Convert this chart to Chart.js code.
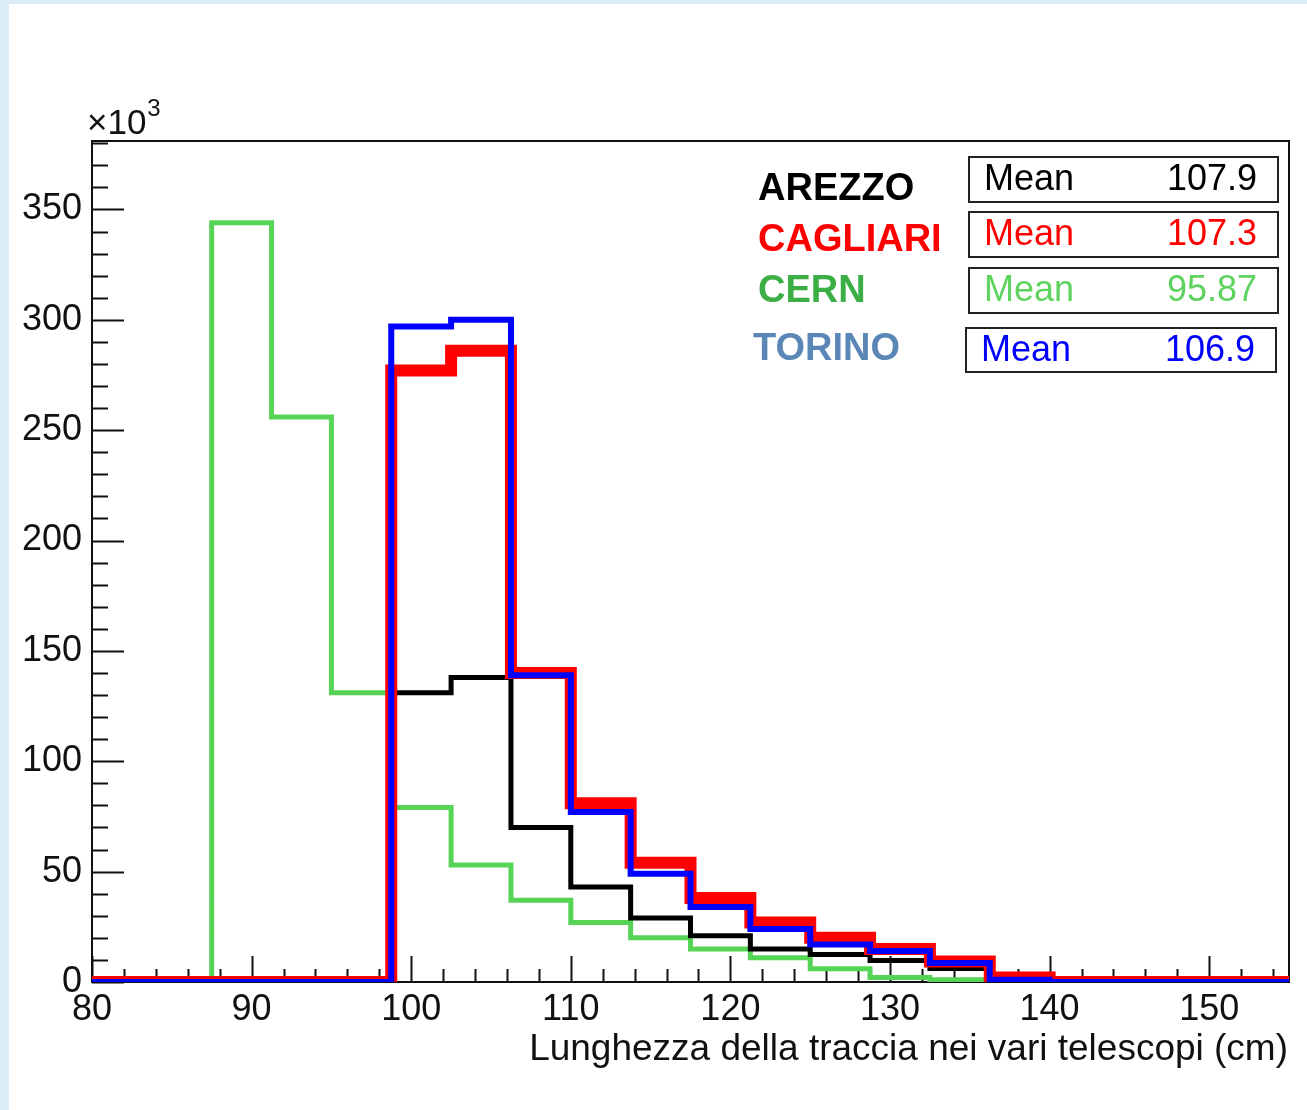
<!DOCTYPE html>
<html>
<head>
<meta charset="utf-8">
<script src="https://cdn.jsdelivr.net/npm/chart.js@4.4.1/dist/chart.umd.min.js"></script>
<style>
  html, body { margin: 0; padding: 0; width: 1307px; height: 1110px; overflow: hidden; background: #dcedf8; }
  #wrap { position: absolute; left: 9px; top: 4px; width: 1298px; height: 1106px; background: #ffffff; }
  canvas { display: block; }
</style>
</head>
<body>
<div id="wrap"><canvas id="c" width="1298" height="1106"></canvas></div>
<script>
// Bin edges of the track-length histograms (cm), 20 bins of 3.75 cm
const binEdges = [80, 83.75, 87.5, 91.25, 95, 98.75, 102.5, 106.25, 110, 113.75, 117.5,
                  121.25, 125, 128.75, 132.5, 136.25, 140, 143.75, 147.5, 151.25, 155];

// Bin contents, in thousands of tracks
const arezzo   = [0, 0, 0, 0, 0, 131, 138, 70, 43, 29, 21, 15, 12.5, 9.7, 6.1, 2.5, 0, 0, 0, 0];
const cagliari = [0, 0, 0, 0, 0, 277, 286, 140, 81, 54, 38, 27, 20, 15, 9.3, 2, 0, 0, 0, 0];
const cern     = [0, 0, 344, 256, 131, 79, 53, 37, 27, 20, 15, 11, 6, 2, 1, 0.5, 0, 0, 0, 0];
const torino   = [0, 0, 0, 0, 0, 297, 300, 139, 77, 49, 34, 24, 17, 14, 8.6, 1, 0, 0, 0, 0];

// Station labels and their stat-box means
const stations  = ['AREZZO', 'CAGLIARI', 'CERN', 'TORINO'];
const meanTexts = ['107.9', '107.3', '95.87', '106.9'];

// Axis tick labels
const xTickValues = [80, 90, 100, 110, 120, 130, 140, 150];
const yTickValues = [0, 50, 100, 150, 200, 250, 300, 350];
const xTitle = 'Lunghezza della traccia nei vari telescopi (cm)';

const FONT = "'Liberation Sans', Arial, Helvetica, sans-serif";

// Histogram outline: one point per lower edge, plus the closing upper edge
function histPoints(values) {
  const pts = values.map((v, i) => ({ x: binEdges[i], y: v }));
  pts.push({ x: binEdges[values.length], y: values[values.length - 1] });
  return pts;
}

function histDataset(label, values, color, width) {
  return {
    label: label,
    data: histPoints(values),
    borderColor: color,
    borderWidth: width,
    stepped: 'before',
    fill: false,
    pointRadius: 0,
    tension: 0,
    borderJoinStyle: 'miter',
    borderCapStyle: 'butt'
  };
}

// Frame with ROOT-style inward tick marks, plus the labels and stat boxes
const framePlugin = {
  id: 'frame',
  beforeDatasetsDraw(chart) {
    const { ctx, chartArea: a, scales: { x, y } } = chart;
    ctx.save();
    ctx.strokeStyle = '#111';
    ctx.lineWidth = 2;
    ctx.strokeRect(a.left, a.top, a.right - a.left, a.bottom - a.top);
    ctx.beginPath();
    for (let v = 0; v <= y.max; v += 10) {
      const py = Math.round(y.getPixelForValue(v)) + 0.5;
      const len = (v % 50 === 0) ? 32 : 16;
      ctx.moveTo(a.left, py);
      ctx.lineTo(a.left + len, py);
    }
    for (let v = x.min; v < x.max; v += 2) {
      const px = Math.round(x.getPixelForValue(v)) + 0.5;
      const len = (v % 10 === 0) ? 26 : 13;
      ctx.moveTo(px, a.bottom);
      ctx.lineTo(px, a.bottom - len);
    }
    ctx.stroke();
    ctx.restore();
  },
  afterDraw(chart) {
    const { ctx, chartArea: a } = chart;
    ctx.save();

    // exponent of the y axis
    ctx.fillStyle = '#111';
    ctx.textAlign = 'left';
    ctx.textBaseline = 'alphabetic';
    ctx.font = '35px ' + FONT;
    ctx.fillText('\u00d710', a.left - 5, a.top - 7);
    const w = ctx.measureText('\u00d710').width;
    ctx.font = '24px ' + FONT;
    ctx.fillText('3', a.left - 5 + w + 1, a.top - 25);

    // x axis title
    ctx.font = '37px ' + FONT;
    ctx.textAlign = 'right';
    ctx.fillText(xTitle, a.right - 1, a.bottom + 78);

    // station names
    const nameColors = ['#000000', '#ff0000', '#3cae46', '#5b87b6'];
    const nameY = [186, 237, 288, 346];
    const nameX = [749, 749, 749, 744];
    ctx.font = 'bold 38px ' + FONT;
    ctx.textAlign = 'left';
    ctx.textBaseline = 'middle';
    stations.forEach((s, i) => {
      ctx.fillStyle = nameColors[i];
      ctx.fillText(s, nameX[i], nameY[i]);
    });

    // stat boxes
    const boxColors = ['#000000', '#ff0000', '#5fd35f', '#0000ff'];
    const boxes = [
      [960, 153, 309, 45],
      [960, 208, 309, 45],
      [960, 264, 309, 45],
      [957, 324, 310, 44]
    ];
    meanTexts.forEach((m, i) => {
      const [bx, by, bw, bh] = boxes[i];
      ctx.fillStyle = '#ffffff';
      ctx.fillRect(bx, by, bw, bh);
      ctx.strokeStyle = '#222';
      ctx.lineWidth = 2;
      ctx.strokeRect(bx, by, bw, bh);
      ctx.fillStyle = boxColors[i];
      ctx.font = '36px ' + FONT;
      ctx.textBaseline = 'middle';
      ctx.textAlign = 'left';
      ctx.fillText('Mean', bx + 15, by + bh / 2 + 1);
      ctx.textAlign = 'right';
      ctx.fillText(m, bx + bw - 21, by + bh / 2 + 1);
    });
    ctx.restore();
  }
};

new Chart(document.getElementById('c'), {
  type: 'line',
  data: {
    datasets: [
      histDataset('TORINO', torino, '#0000ff', 6),
      histDataset('CAGLIARI', cagliari, '#ff0000', 12),
      histDataset('AREZZO', arezzo, '#000000', 5),
      histDataset('CERN', cern, '#56d456', 5)
    ]
  },
  options: {
    responsive: false,
    animation: false,
    events: [],
    layout: { padding: { left: 0, top: 137, right: 18, bottom: 0 } },
    plugins: { legend: { display: false }, tooltip: { enabled: false } },
    scales: {
      x: {
        type: 'linear',
        min: 80,
        max: 155,
        grid: { display: false, drawTicks: false },
        border: { display: false },
        afterBuildTicks: (s) => { s.ticks = xTickValues.map(v => ({ value: v })); },
        afterFit: (s) => { s.height = 128; },
        ticks: { autoSkip: false, maxRotation: 0, minRotation: 0, padding: 6, color: '#111',
                 font: { family: FONT, size: 36 } }
      },
      y: {
        type: 'linear',
        min: 0,
        max: 381,
        grid: { display: false, drawTicks: false },
        border: { display: false },
        afterBuildTicks: (s) => { s.ticks = yTickValues.map(v => ({ value: v })); },
        afterFit: (s) => { s.width = 83; },
        ticks: { autoSkip: false, padding: 10, color: '#111',
                 font: { family: FONT, size: 36 } }
      }
    }
  },
  plugins: [framePlugin]
});
</script>
</body>
</html>
